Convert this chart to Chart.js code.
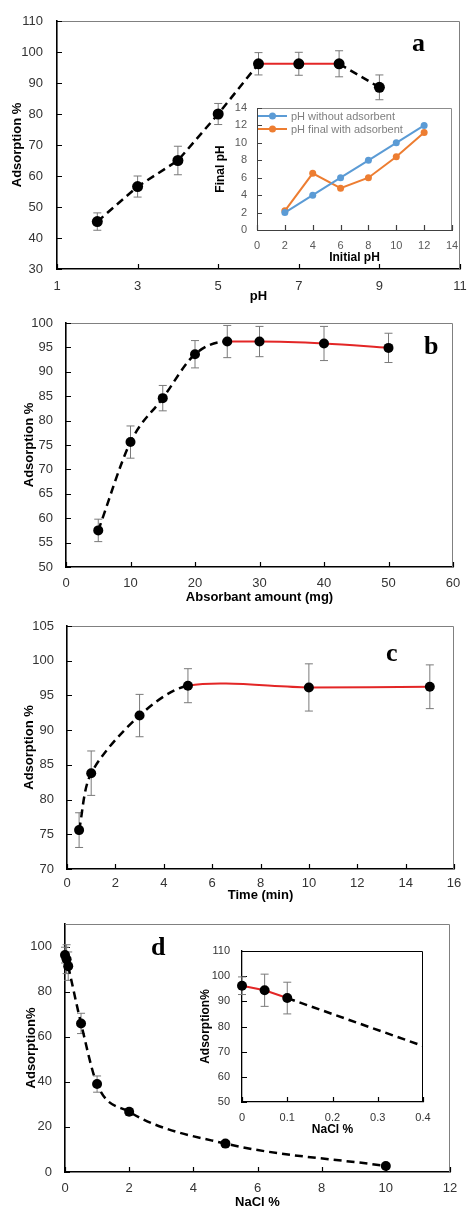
<!DOCTYPE html>
<html>
<head>
<meta charset="utf-8">
<script src="https://cdn.jsdelivr.net/npm/chart.js@4.4.1/dist/chart.umd.min.js"></script>
<style>
  html, body { margin: 0; padding: 0; background: #fff; }
  #fig { position: relative; width: 469px; height: 1210px; overflow: hidden; background: #fff; }
  #fig canvas { position: absolute; }
  .tag { position: absolute; font: bold 26px 'Liberation Serif', 'Times New Roman', serif; line-height: 1; color: #000; }
</style>
</head>
<body>
<div id="fig">
  <canvas id="chartA" width="469" height="305" style="left:0;top:0"></canvas>
  <canvas id="chartB" width="469" height="300" style="left:0;top:305px"></canvas>
  <canvas id="chartC" width="469" height="300" style="left:0;top:605px"></canvas>
  <canvas id="chartD" width="469" height="305" style="left:0;top:905px"></canvas>
  <canvas id="insetA" width="248" height="170" style="left:212px;top:100px"></canvas>
  <canvas id="insetD" width="237" height="205" style="left:195px;top:935px"></canvas>
  <div class="tag" style="left:412px;top:30px">a</div>
  <div class="tag" style="left:424px;top:333px">b</div>
  <div class="tag" style="left:386px;top:640px">c</div>
  <div class="tag" style="left:151px;top:934px">d</div>
</div>
<script>
// (a) effect of pH
const ph = [2, 3, 4, 5, 6, 7, 8, 9];
const adsorptionPh = [45.3, 56.6, 65.0, 80.0, 96.2, 96.2, 96.2, 88.6];
const errorPh = [2.8, 3.4, 4.6, 3.4, 3.6, 3.7, 4.2, 4.0];

// (a) inset: final pH vs initial pH
const initialPh = [2, 4, 6, 8, 10, 12];
const finalPhBlank = [2, 4, 6, 8, 10, 12];
const finalPhAdsorbent = [2.2, 6.5, 4.8, 6.0, 8.4, 11.2];

// (b) adsorbent amount
const dose = [5, 10, 15, 20, 25, 30, 40, 50];
const adsorptionDose = [57.5, 75.6, 84.6, 93.6, 96.2, 96.2, 95.8, 94.9];
const errorDose = [2.3, 3.3, 2.6, 2.8, 3.3, 3.1, 3.5, 3.0];

// (c) contact time
const time = [0.5, 1, 3, 5, 10, 15];
const adsorptionTime = [75.6, 83.8, 92.1, 96.4, 96.15, 96.25];
const errorTime = [2.5, 3.2, 3.05, 2.45, 3.4, 3.15];

// (d) salt
const nacl = [0, 0.05, 0.1, 0.5, 1, 2, 5, 10];
const adsorptionNacl = [96.2, 94.4, 91.3, 65.9, 39.0, 26.7, 12.6, 2.7];
const errorNacl = [3.5, 6.4, 6.3, 4.5, 3.6, 1.5, 1.2, 1.0];

const FONT = "'Liberation Sans', Arial, sans-serif";
const RED = '#e32626';

const xy = (xs, ys) => xs.map((x, i) => ({ x, y: ys[i] }));

// grey error bars with caps
const errorBars = {
  id: 'errorBars',
  beforeDatasetsDraw(chart) {
    const { ctx, scales: { x, y } } = chart;
    chart.data.datasets.forEach(ds => {
      if (!ds.errors) return;
      ctx.save();
      ctx.strokeStyle = '#7a7a7a';
      ctx.lineWidth = 1;
      ds.data.forEach((p, i) => {
        if (p.x < x.min || p.x > x.max) return;
        const px = x.getPixelForValue(p.x);
        const t = y.getPixelForValue(p.y + ds.errors[i]);
        const b = y.getPixelForValue(p.y - ds.errors[i]);
        ctx.beginPath();
        ctx.moveTo(px, t); ctx.lineTo(px, b);
        ctx.moveTo(px - 4, t); ctx.lineTo(px + 4, t);
        ctx.moveTo(px - 4, b); ctx.lineTo(px + 4, b);
        ctx.stroke();
      });
      ctx.restore();
    });
  }
};

// box round the plot + inward tick marks
const frame = {
  id: 'frame',
  beforeDraw(chart, args, o) {
    if (!o.fill) return;
    const a = chart.chartArea;
    chart.ctx.save();
    chart.ctx.fillStyle = o.fill;
    chart.ctx.fillRect(a.left, a.top, a.right - a.left, a.bottom - a.top);
    chart.ctx.restore();
  },
  beforeDatasetsDraw(chart, args, o) {
    const { ctx, chartArea: a, scales: { x, y } } = chart;
    ctx.save();
    ctx.strokeStyle = o.color || '#808080';
    ctx.lineWidth = 1;
    ctx.beginPath();
    ctx.moveTo(a.left, a.top + 0.5); ctx.lineTo(a.right - 0.5, a.top + 0.5); ctx.lineTo(a.right - 0.5, a.bottom);
    ctx.stroke();
    ctx.strokeStyle = o.tickColor || '#000';
    ctx.lineWidth = 1.2;
    ctx.beginPath();
    x.ticks.forEach(t => {
      const px = Math.round(x.getPixelForValue(t.value)) + 0.5;
      ctx.moveTo(px, a.bottom); ctx.lineTo(px, a.bottom - 5);
    });
    y.ticks.forEach(t => {
      const py = Math.round(y.getPixelForValue(t.value)) + 0.5;
      ctx.moveTo(a.left, py); ctx.lineTo(a.left + 5, py);
    });
    ctx.stroke();
    ctx.restore();
  }
};

// legend inside the inset plot
const insetLegend = {
  id: 'insetLegend',
  afterDatasetsDraw(chart, args, o) {
    if (!o.show) return;
    const { ctx, chartArea: a } = chart;
    ctx.save();
    ctx.font = '11px ' + FONT;
    ctx.textBaseline = 'middle';
    chart.data.datasets.forEach((ds, i) => {
      const y = a.top + 8 + i * 13;
      ctx.strokeStyle = ds.borderColor;
      ctx.lineWidth = 2;
      ctx.beginPath(); ctx.moveTo(a.left + 1, y); ctx.lineTo(a.left + 30, y); ctx.stroke();
      ctx.fillStyle = ds.borderColor;
      ctx.beginPath(); ctx.arc(a.left + 15.5, y, 3.5, 0, Math.PI * 2); ctx.fill();
      ctx.fillStyle = '#7f7f7f';
      ctx.fillText(ds.label, a.left + 34, y + 0.5);
    });
    ctx.restore();
  }
};

function scales(p) {
  const tickFont = { family: FONT, size: p.tickSize || 13 };
  const titleFont = { family: FONT, size: p.titleSize || 13, weight: 'bold' };
  return {
    x: {
      type: 'linear', min: p.xMin, max: p.xMax,
      grid: { display: false, drawTicks: false },
      border: { color: p.axisColor || '#000', width: p.axisWidth || 1.6 },
      ticks: { stepSize: p.xStep, padding: p.xPad, font: tickFont, color: p.tickColor || '#333', autoSkip: false, maxRotation: 0 },
      title: { display: true, text: p.xTitle, font: titleFont, color: '#000', padding: { top: 0, bottom: p.xTitlePad || 0 } },
      afterFit: s => { s.height = p.xHeight; s.paddingLeft = 0; s.paddingRight = 0; }
    },
    y: {
      type: 'linear', min: p.yMin, max: p.yMax,
      grid: { display: false, drawTicks: false },
      border: { color: p.axisColor || '#000', width: p.axisWidth || 1.6 },
      ticks: { stepSize: p.yStep, padding: p.yPad, font: tickFont, color: p.tickColor || '#333', autoSkip: false },
      title: { display: true, text: p.yTitle, font: titleFont, color: '#000', padding: { top: p.yTitlePad || 2, bottom: 0 } },
      afterBuildTicks: s => { if (p.yLabelMax !== undefined) s.ticks = s.ticks.filter(t => t.value <= p.yLabelMax); },
      afterFit: s => { s.width = p.yWidth; s.paddingTop = 0; s.paddingBottom = 0; }
    }
  };
}

function adsorptionDataset(p) {
  const red = i => p.isRed(i);
  return {
    data: xy(p.x, p.y),
    errors: p.err,
    borderColor: '#000',
    borderWidth: 2.5,
    borderDash: [8, 5],
    tension: p.tension || 0,
    cubicInterpolationMode: p.mode || 'default',
    pointRadius: p.r || 5,
    pointHoverRadius: 0,
    pointBackgroundColor: '#000',
    pointBorderWidth: 0,
    clip: p.clip === undefined ? false : p.clip,
    segment: {
      borderColor: c => red(c.p0DataIndex) ? RED : '#000',
      borderDash: c => red(c.p0DataIndex) ? [] : [8, 5],
      borderWidth: c => red(c.p0DataIndex) ? 2 : 2.5
    }
  };
}

function makeChart(id, datasets, p) {
  return new Chart(document.getElementById(id), {
    type: 'line',
    data: { datasets },
    options: {
      responsive: false,
      animation: false,
      events: [],
      layout: { padding: p.pad },
      plugins: {
        legend: { display: false },
        tooltip: { enabled: false },
        frame: { color: p.frameColor, tickColor: p.axisColor, fill: p.fill },
        insetLegend: { show: !!p.legend }
      },
      scales: scales(p)
    },
    plugins: [frame, errorBars, insetLegend]
  });
}

// (a)
makeChart('chartA', [adsorptionDataset({
  x: ph, y: adsorptionPh, err: errorPh, r: 5.5, isRed: i => i >= 4 && i < 6
})], {
  pad: { left: 8, top: 21, right: 9, bottom: 0 }, yWidth: 49, xHeight: 36,
  xMin: 1, xMax: 11, xStep: 2, yMin: 30, yMax: 110, yStep: 10,
  xPad: 10, yPad: 14, xTitle: 'pH', yTitle: 'Adsorption %', xTitlePad: 1
});

// (b)
makeChart('chartB', [adsorptionDataset({
  x: dose, y: adsorptionDose, err: errorDose, mode: 'monotone', tension: 0.4, isRed: i => i >= 4
})], {
  pad: { left: 20, top: 18, right: 16, bottom: 0 }, yWidth: 46, xHeight: 38,
  xMin: 0, xMax: 60, xStep: 10, yMin: 50, yMax: 100, yStep: 5,
  xPad: 9, yPad: 13, xTitle: 'Absorbant amount (mg)', yTitle: 'Adsorption %'
});

// (c)
makeChart('chartC', [adsorptionDataset({
  x: time, y: adsorptionTime, err: errorTime, tension: 0.3, isRed: i => i >= 3
})], {
  pad: { left: 20, top: 21, right: 15, bottom: 0 }, yWidth: 47, xHeight: 36,
  xMin: 0, xMax: 16, xStep: 2, yMin: 70, yMax: 105, yStep: 5,
  xPad: 7, yPad: 13, xTitle: 'Time (min)', yTitle: 'Adsorption %', xTitlePad: 2
});

// (d)
makeChart('chartD', [adsorptionDataset({
  x: nacl, y: adsorptionNacl, err: errorNacl, mode: 'monotone', tension: 0.4, isRed: i => i < 2
})], {
  pad: { left: 22, top: 19, right: 19, bottom: 0 }, yWidth: 43, xHeight: 38,
  xMin: 0, xMax: 12, xStep: 2, yMin: 0, yMax: 110, yStep: 20, yLabelMax: 100,
  xPad: 9, yPad: 13, xTitle: 'NaCl %', yTitle: 'Adsorption%'
});

// (a) inset
const lineDs = (label, ys, color) => ({
  label, data: xy(initialPh, ys), borderColor: color, backgroundColor: color,
  borderWidth: 2, pointRadius: 3.5, pointHoverRadius: 0, pointBackgroundColor: color,
  pointBorderWidth: 0, tension: 0, clip: false
});
makeChart('insetA', [
  lineDs('pH without adsorbent', finalPhBlank, '#5b9bd5'),
  lineDs('pH final with adsorbent', finalPhAdsorbent, '#ed7d31')
], {
  pad: { left: 0, top: 8, right: 8, bottom: 0 }, yWidth: 45, xHeight: 40,
  xMin: 0, xMax: 14, xStep: 2, yMin: 0, yMax: 14, yStep: 2,
  xPad: 9, yPad: 10, xTitle: 'Initial pH', yTitle: 'Final pH', xTitlePad: 5, yTitlePad: 1,
  tickSize: 11, titleSize: 12, tickColor: '#595959', axisColor: '#404040', axisWidth: 1,
  frameColor: '#8c8c8c', fill: '#fff', legend: true
});

// (d) inset: zoom on low NaCl
makeChart('insetD', [adsorptionDataset({
  x: nacl, y: adsorptionNacl, err: errorNacl, isRed: i => i < 2,
  clip: { left: 10, top: 10, right: 0, bottom: 10 }
})], {
  pad: { left: 2, top: 16, right: 9, bottom: 0 }, yWidth: 45, xHeight: 38,
  xMin: 0, xMax: 0.4, xStep: 0.1, yMin: 50, yMax: 110, yStep: 10,
  xPad: 9, yPad: 12, xTitle: 'NaCl %', yTitle: 'Adsorption%', xTitlePad: 3, yTitlePad: 1,
  tickSize: 11, titleSize: 12, axisWidth: 1.3, frameColor: '#000', fill: '#fff'
});
</script>
</body>
</html>
